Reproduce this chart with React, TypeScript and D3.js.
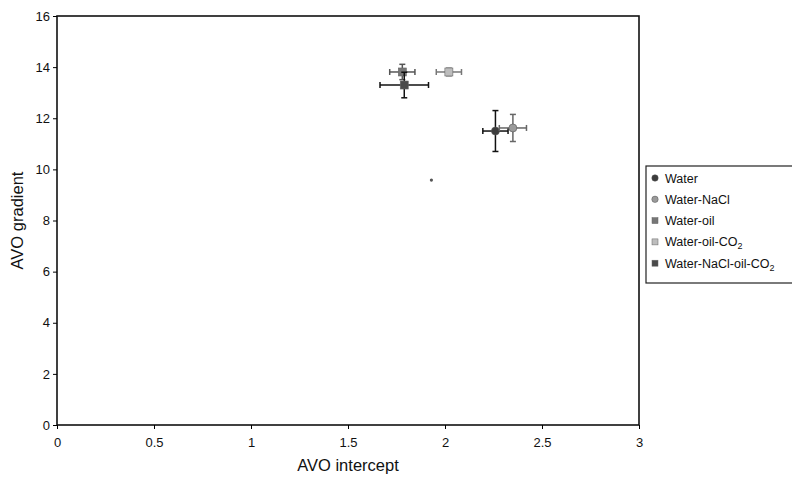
import * as d3 from "d3";
import {useEffect, useRef} from "react";

// series (one point each): intercept, gradient, x error, y error
const seriesNames = ["Water", "Water-NaCl", "Water-oil", "Water-oil-CO2", "Water-NaCl-oil-CO2"];
const xValues = [2.26, 2.35, 1.78, 2.02, 1.79];
const yValues = [11.5, 11.62, 13.81, 13.81, 13.3];
const xErrors = [0.065, 0.07, 0.065, 0.065, 0.125];
const yErrors = [0.8, 0.53, 0.3, 0.15, 0.5];
const shapes = ["circle", "circle", "square", "square", "square"];
const fills = ["#3c3c3c", "#9a9a9a", "#767676", "#bdbdbd", "#4a4a4a"];
const barColors = ["#111", "#666", "#555", "#777", "#111"];

const xTicks = [0, 0.5, 1, 1.5, 2, 2.5, 3];
const yTicks = [0, 2, 4, 6, 8, 10, 12, 14, 16];

// little stray dot in the plot
const strayX = [1.93];
const strayY = [9.58];

const W = 792;
const H = 477;
const margin = {top: 16, left: 57, right: 153, bottom: 52};

const App = () => {
    const ref = useRef<SVGSVGElement>(null);

    useEffect(() => {
        const svg = d3.select(ref.current);
        svg.selectAll("*").remove();
        const font = "'Liberation Sans', Arial, sans-serif";

        const x = d3.scaleLinear().domain([0, 3]).range([margin.left, W - margin.right]);
        const y = d3.scaleLinear().domain([0, 16]).range([H - margin.bottom, margin.top]);

        svg.append("rect")
            .attr("x", x(0)).attr("y", y(16))
            .attr("width", x(3) - x(0)).attr("height", y(0) - y(16))
            .attr("fill", "none").attr("stroke", "#111").attr("stroke-width", 1.6);

        const xa = svg.append("g")
            .attr("transform", `translate(0,${y(0)})`)
            .call(d3.axisBottom(x).tickValues(xTicks).tickSize(4).tickSizeOuter(0).tickFormat(d => String(d)));
        xa.select(".domain").remove();
        xa.selectAll("text").attr("font-size", 13).attr("font-family", font).attr("fill", "#111").attr("dy", "1.15em");

        const ya = svg.append("g")
            .attr("transform", `translate(${x(0)},0)`)
            .call(d3.axisLeft(y).tickValues(yTicks).tickSize(4).tickSizeOuter(0));
        ya.select(".domain").remove();
        ya.selectAll("text").attr("font-size", 13).attr("font-family", font).attr("fill", "#111");

        svg.append("text")
            .attr("x", (x(0) + x(3)) / 2).attr("y", 471)
            .attr("text-anchor", "middle").attr("font-size", 16.5).attr("font-family", font)
            .attr("fill", "#111").text("AVO intercept");

        svg.append("text")
            .attr("transform", `translate(23,${(y(0) + y(16)) / 2}) rotate(-90)`)
            .attr("text-anchor", "middle").attr("font-size", 16.5).attr("font-family", font)
            .attr("fill", "#111").text("AVO gradient");

        const cap = 3;
        seriesNames.forEach((name, i) => {
            const cx = x(xValues[i]);
            const cy = y(yValues[i]);
            const g = svg.append("g");
            const c = barColors[i];
            const x0 = x(xValues[i] - xErrors[i]), x1 = x(xValues[i] + xErrors[i]);
            const y0 = y(yValues[i] - yErrors[i]), y1 = y(yValues[i] + yErrors[i]);
            g.append("line").attr("x1", x0).attr("x2", x1).attr("y1", cy).attr("y2", cy).attr("stroke", c).attr("stroke-width", 1.5);
            g.append("line").attr("x1", cx).attr("x2", cx).attr("y1", y0).attr("y2", y1).attr("stroke", c).attr("stroke-width", 1.5);
            [x0, x1].forEach(v => g.append("line").attr("x1", v).attr("x2", v).attr("y1", cy - cap).attr("y2", cy + cap).attr("stroke", c).attr("stroke-width", 1.5));
            [y0, y1].forEach(v => g.append("line").attr("y1", v).attr("y2", v).attr("x1", cx - cap).attr("x2", cx + cap).attr("stroke", c).attr("stroke-width", 1.5));
            if (shapes[i] === "circle") {
                g.append("circle").attr("cx", cx).attr("cy", cy).attr("r", 4).attr("fill", fills[i]).attr("stroke", "#555").attr("stroke-width", 0.6);
            } else {
                g.append("rect").attr("x", cx - 4).attr("y", cy - 4).attr("width", 8).attr("height", 8).attr("fill", fills[i]).attr("stroke", "#666").attr("stroke-width", 0.6);
            }
        });

        strayX.forEach((v, i) => {
            svg.append("circle").attr("cx", x(v)).attr("cy", y(strayY[i])).attr("r", 1.6).attr("fill", "#555");
        });

        // legend
        const lg = svg.append("g").attr("transform", "translate(646,166)");
        lg.append("rect").attr("x", 0).attr("y", 0).attr("width", 160).attr("height", 117)
            .attr("fill", "white").attr("stroke", "#222").attr("stroke-width", 1.2);
        seriesNames.forEach((name, i) => {
            const ly = 12 + i * 21.3;
            if (shapes[i] === "circle") {
                lg.append("circle").attr("cx", 9).attr("cy", ly).attr("r", 3.2).attr("fill", fills[i]).attr("stroke", "#555").attr("stroke-width", 0.5);
            } else {
                lg.append("rect").attr("x", 6).attr("y", ly - 3).attr("width", 6).attr("height", 6).attr("fill", fills[i]).attr("stroke", "#666").attr("stroke-width", 0.5);
            }
            const t = lg.append("text").attr("x", 19).attr("y", ly + 4.5)
                .attr("font-size", 12.5).attr("font-family", font).attr("fill", "#111");
            if (name.endsWith("CO2")) {
                t.append("tspan").text(name.slice(0, -1));
                t.append("tspan").attr("font-size", 9).attr("dy", 3).text("2");
            } else {
                t.text(name);
            }
        });
    }, []);

    return (
        <svg ref={ref} width={W} height={H}
             style={{position: "absolute", left: 0, top: 0, background: "white"}}></svg>
    );
};

export default App;
